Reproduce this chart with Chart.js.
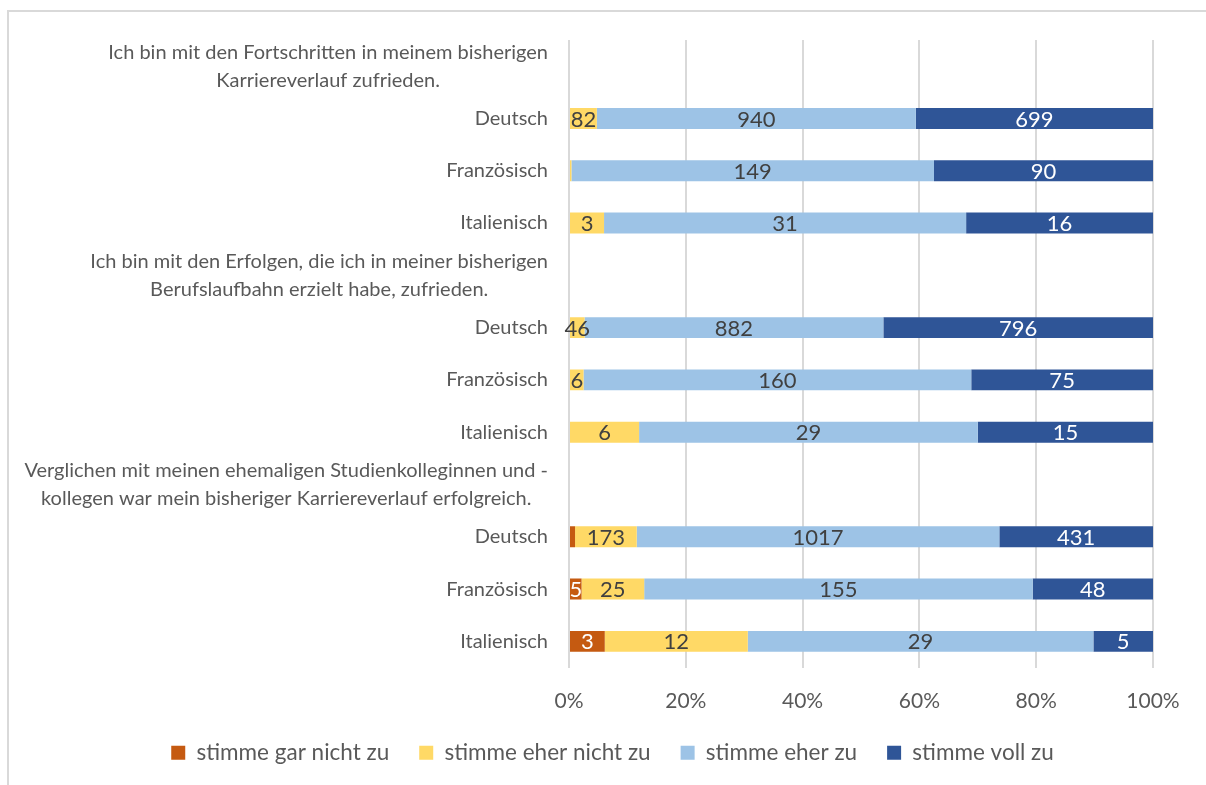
<!DOCTYPE html>
<html lang="de">
<head>
<meta charset="utf-8">
<title>Karriereverlauf</title>
<script src="https://cdn.jsdelivr.net/npm/chart.js@4.4.1/dist/chart.umd.min.js"></script>
<style>
  html, body { margin: 0; padding: 0; background: #fff; }
  #frame {
    position: absolute; left: 7px; top: 10px; width: 1230px; height: 800px;
    border-top: 2px solid #d9d9d9; border-left: 2px solid #d9d9d9;
  }
  #chart { position: absolute; left: 0; top: 0; }
</style>
</head>
<body>
<div id="frame"></div>
<canvas id="chart" width="1206" height="785"></canvas>
<script>
// ─── Data ─────────────────────────────────────────────

const CATEGORIES = [
  ['Ich bin mit den Fortschritten in meinem bisherigen', 'Karriereverlauf zufrieden.'],
  'Deutsch', 'Französisch', 'Italienisch',
  ['Ich bin mit den Erfolgen, die ich in meiner bisherigen', 'Berufslaufbahn erzielt habe, zufrieden.'],
  'Deutsch', 'Französisch', 'Italienisch',
  ['Verglichen mit meinen ehemaligen Studienkolleginnen und -', 'kollegen war mein bisheriger Karriereverlauf erfolgreich.'],
  'Deutsch', 'Französisch', 'Italienisch',
];

const SERIES = ['stimme gar nicht zu', 'stimme eher nicht zu', 'stimme eher zu', 'stimme voll zu'];

// counts per row (null = heading row)
const GAR_NICHT  = [null, 0,   0,   0,  null, 0,   0,   0,  null, 17,   5,   3];
const EHER_NICHT = [null, 82,  1,   3,  null, 46,  6,   6,  null, 173,  25,  12];
const EHER_ZU    = [null, 940, 149, 31, null, 882, 160, 29, null, 1017, 155, 29];
const VOLL_ZU    = [null, 699, 90,  16, null, 796, 75,  15, null, 431,  48,  5];

const X_TICKS = [0, 20, 40, 60, 80, 100];

const COLORS       = ['#c55a11', '#ffd966', '#9dc3e6', '#2f5597'];
const LABEL_COLORS = ['#ffffff', '#404040', '#404040', '#ffffff'];
const FONT = 'Lato';

// ─── Helpers ──────────────────────────────────────────

const COUNTS = [GAR_NICHT, EHER_NICHT, EHER_ZU, VOLL_ZU];
const totals = CATEGORIES.map((_, i) =>
  COUNTS[0][i] == null ? null : COUNTS.reduce((s, arr) => s + arr[i], 0));
const toPct = arr => arr.map((v, i) => v == null ? null : v / totals[i] * 100);

// category labels: multi-line headings centred as a block, right edge at the axis
const catLabels = {
  id: 'catLabels',
  afterDraw(chart) {
    const { ctx, chartArea } = chart;
    const y = chart.scales.y;
    const right = chartArea.left - 21;
    const lineH = 28;
    ctx.save();
    ctx.font = '20px ' + FONT;
    ctx.fillStyle = '#595959';
    ctx.textAlign = 'center';
    ctx.textBaseline = 'middle';
    CATEGORIES.forEach((lab, i) => {
      const lines = Array.isArray(lab) ? lab : [lab];
      const w = Math.max(...lines.map(l => ctx.measureText(l).width));
      const y0 = y.getPixelForValue(i) - (lines.length - 1) * lineH / 2;
      lines.forEach((l, j) => ctx.fillText(l, right - w / 2, y0 + j * lineH));
    });
    ctx.restore();
  }
};

// value labels centred in each segment
const valueLabels = {
  id: 'valueLabels',
  afterDatasetsDraw(chart) {
    const ctx = chart.ctx;
    ctx.save();
    ctx.font = '22px ' + FONT;
    ctx.textAlign = 'center';
    ctx.textBaseline = 'middle';
    chart.data.datasets.forEach((ds, di) => {
      chart.getDatasetMeta(di).data.forEach((bar, i) => {
        const v = COUNTS[di][i];
        if (v == null || Math.abs(bar.x - bar.base) < 8) return;
        ctx.fillStyle = LABEL_COLORS[di];
        ctx.fillText(String(v), (bar.x + bar.base) / 2, bar.y + 1);
      });
    });
    ctx.restore();
  }
};

// ─── Chart ────────────────────────────────────────────

new Chart(document.getElementById('chart'), {
  type: 'bar',
  data: {
    labels: CATEGORIES,
    datasets: SERIES.map((name, k) => ({
      label: name,
      data: toPct(COUNTS[k]),
      backgroundColor: COLORS[k],
      borderWidth: 0,
      barPercentage: 0.4,
      categoryPercentage: 1,
    })),
  },
  options: {
    indexAxis: 'y',
    responsive: false,
    animation: false,
    layout: { padding: { left: 72, top: 40, right: 53, bottom: 11 } },
    scales: {
      x: {
        stacked: true,
        min: 0, max: 100,
        afterBuildTicks: s => { s.ticks = X_TICKS.map(v => ({ value: v })); },
        grid: { color: '#d9d9d9', lineWidth: 2, drawTicks: false },
        border: { display: false },
        ticks: {
          color: '#595959',
          padding: 21,
          font: { size: 21, family: FONT },
          callback: v => v + '%',
        },
        afterFit: s => { s.height = 44; },
      },
      y: {
        stacked: true,
        grid: { display: false },
        border: { display: false },
        ticks: { display: false },
        afterFit: s => { s.width = 497; },
      },
    },
    plugins: {
      legend: {
        position: 'bottom',
        labels: {
          color: '#595959',
          boxWidth: 14,
          boxHeight: 14,
          padding: 30,
          font: { size: 22.5, family: FONT },
        },
      },
      tooltip: { enabled: false },
    },
  },
  plugins: [catLabels, valueLabels],
});
</script>
</body>
</html>
